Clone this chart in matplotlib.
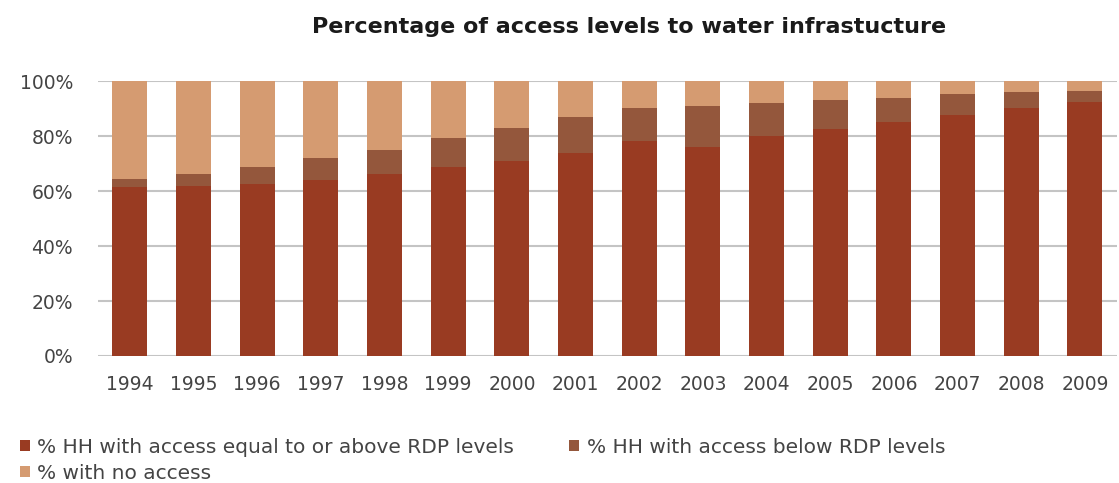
import numpy as np
import matplotlib.pyplot as plt
from matplotlib.ticker import FuncFormatter

# Datos (porcentaje de hogares)
anios = ['1994', '1995', '1996', '1997', '1998', '1999', '2000', '2001',
         '2002', '2003', '2004', '2005', '2006', '2007', '2008', '2009']
rdp_o_mas = [61.6, 61.8, 62.4, 64.2, 66.1, 68.8, 71.0, 73.7,
             78.2, 76.1, 80.1, 82.5, 85.2, 87.6, 90.3, 92.3]
bajo_rdp = [2.7, 4.3, 6.2, 7.7, 8.8, 10.5, 12.1, 13.3,
            12.0, 14.8, 12.0, 10.8, 8.7, 7.7, 5.6, 4.2]
sin_acceso = [100 - a - b for a, b in zip(rdp_o_mas, bajo_rdp)]

etiquetas = ['% HH with access equal to or above RDP levels',
             '% HH with access below RDP levels',
             '% with no access']
colores = ['#993b22', '#94573c', '#d59b71']

fig = plt.figure(figsize=(11.19, 4.83), dpi=100)
ax = fig.add_axes([0.0876, 0.263, 0.9104, 0.569])

x = np.arange(len(anios))
ancho = 0.55
b1 = ax.bar(x, rdp_o_mas, ancho, color=colores[0], zorder=2)
b2 = ax.bar(x, bajo_rdp, ancho, bottom=rdp_o_mas, color=colores[1], zorder=2)
b3 = ax.bar(x, sin_acceso, ancho, bottom=np.array(rdp_o_mas) + np.array(bajo_rdp),
            color=colores[2], zorder=2)

ax.set_xlim(-0.5, len(anios) - 0.5)
ax.set_ylim(0, 100)
ax.set_yticks(np.arange(0, 101, 20))
ax.yaxis.set_major_formatter(FuncFormatter(lambda v, p: f'{v:.0f}%'))
ax.set_xticks(x)
ax.set_xticklabels(anios)
ax.grid(axis='y', color='#c4c4c4', linewidth=1.5, zorder=0)
for s in ax.spines.values():
    s.set_visible(False)
ax.tick_params(axis='both', length=0, labelsize=13.5, colors='#444444')
ax.tick_params(axis='y', pad=18)
ax.tick_params(axis='x', pad=14)

fig.text(0.562, 0.932, 'Percentage of access levels to water infrastucture',
         ha='center', va='baseline', fontsize=16, fontweight='bold', color='#1a1a1a')

# orden para que la fila 1 tenga los dos primeros elementos
leg = fig.legend([b1, b3, b2], [etiquetas[0], etiquetas[2], etiquetas[1]],
                 ncol=2, loc='upper left', bbox_to_anchor=(0.0179, 0.094),
                 frameon=False, fontsize=14.5, handlelength=0.5, handleheight=0.5,
                 handletextpad=0.35, columnspacing=2.75, labelspacing=0.35,
                 borderaxespad=0, borderpad=0)
for t in leg.get_texts():
    t.set_color('#444444')

fig.savefig('out.png', dpi=100)
